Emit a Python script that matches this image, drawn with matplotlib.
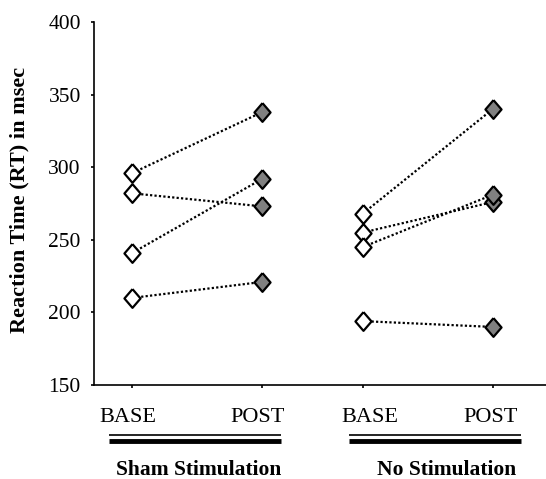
import matplotlib
matplotlib.use("Agg")
import matplotlib.pyplot as plt
from matplotlib.lines import Line2D

# ---- data ----
cond_labels = ["BASE", "POST", "BASE", "POST"]
group_labels = ["Sham Stimulation", "No Stimulation"]
sham_base = [296, 282, 241, 210]
sham_post = [338, 273, 292, 221]
nostim_base = [268, 255, 245, 194]
nostim_post = [340, 276, 281, 190]
y_ticks = [150, 200, 250, 300, 350, 400]

plt.rcParams['font.family'] = ['Liberation Serif', 'DejaVu Serif']

W, H = 546, 479
fig = plt.figure(figsize=(W / 100, H / 100), dpi=100)
ax = fig.add_axes([94 / W, 1 - 385 / H, 1 - 94 / W, (385 - 22) / H])

xpos = [0.0, 1.0, 1.772, 2.772]
diamond = [(0, 1), (0.86, 0), (0, -1), (-0.86, 0), (0, 1)]
line_kw = dict(color='black', linestyle=(0, (1, 1.0)), linewidth=1.6, zorder=1)
mk_kw = dict(marker=diamond, markersize=13.5, markeredgecolor='black',
             markeredgewidth=1.6, linestyle='none', zorder=3)

groups = [(sham_base, sham_post, xpos[0], xpos[1]),
          (nostim_base, nostim_post, xpos[2], xpos[3])]
for base, post, xb, xp in groups:
    for b, p in zip(base, post):
        ax.plot([xb, xp], [b, p], **line_kw)
    ax.plot([xb] * len(base), base, markerfacecolor='white', **mk_kw)
    ax.plot([xp] * len(post), post, markerfacecolor='#808080', **mk_kw)

ax.set_xlim(-0.295, 3.182)
ax.set_ylim(150, 400)
ax.set_yticks(y_ticks)
ax.set_yticklabels([str(v) for v in y_ticks], fontsize=15.5)
ax.set_xticks(xpos)
ax.set_xticklabels([])
ax.tick_params(axis='both', direction='out', length=2.5, width=1.2, color='black')
ax.tick_params(axis='y', pad=7)
for s in ['top', 'right']:
    ax.spines[s].set_visible(False)
for s in ['left', 'bottom']:
    ax.spines[s].set_linewidth(1.2)
    ax.spines[s].set_color('black')

# category labels under axis
label_px = [128, 258, 370, 491]
for lab, px in zip(cond_labels, label_px):
    fig.text(px / W, 1 - 417 / H, lab, ha='center', va='center', fontsize=16)

# double lines under groups
for x0, x1 in [(109, 281), (349, 521)]:
    fig.add_artist(Line2D([x0 / W, x1 / W], [1 - 435 / H, 1 - 435 / H],
                          color='black', linewidth=1.2, solid_capstyle='butt'))
    fig.add_artist(Line2D([x0 / W, x1 / W], [1 - 440.5 / H, 1 - 440.5 / H],
                          color='black', linewidth=3.5, solid_capstyle='butt'))

# group labels
for lab, px in zip(group_labels, [198.5, 446.5]):
    fig.text(px / W, 1 - 470 / H, lab, ha='center', va='center',
             fontsize=15.5, fontweight='bold')

fig.text(19 / W, 1 - 200 / H, "Reaction Time (RT) in msec", rotation=90,
         ha='center', va='center', fontsize=16, fontweight='bold')

fig.savefig("out.png", dpi=100)
